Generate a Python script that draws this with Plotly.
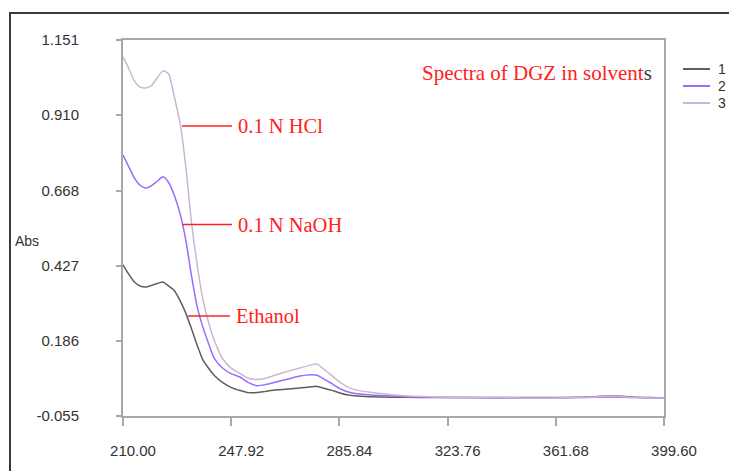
import plotly.graph_objects as go

wavelength = [210, 212, 214, 216, 218, 220, 222, 224, 226, 228, 230, 232, 234, 236, 238, 240,
              242, 245, 248, 251, 254, 257, 260, 264, 268, 272, 276, 278, 280, 283, 286, 289,
              292, 296, 300, 310, 320, 330, 340, 350, 360, 370, 375, 380, 385, 390, 395, 399.6]

abs_ethanol = [0.430, 0.400, 0.375, 0.362, 0.359, 0.364, 0.370, 0.375, 0.362, 0.347, 0.315, 0.275,
               0.225, 0.172, 0.125, 0.098, 0.075, 0.052, 0.036, 0.027, 0.020, 0.020, 0.024, 0.029,
               0.032, 0.035, 0.039, 0.040, 0.035, 0.028, 0.019, 0.012, 0.009, 0.007, 0.006, 0.005,
               0.004, 0.004, 0.004, 0.004, 0.004, 0.005, 0.007, 0.009, 0.008, 0.005, 0.004, 0.003]

abs_naoh = [0.782, 0.745, 0.708, 0.685, 0.676, 0.684, 0.698, 0.712, 0.694, 0.652, 0.594, 0.510,
            0.395, 0.295, 0.230, 0.177, 0.130, 0.098, 0.080, 0.070, 0.052, 0.042, 0.046, 0.055,
            0.064, 0.073, 0.077, 0.076, 0.066, 0.050, 0.033, 0.022, 0.016, 0.013, 0.011, 0.007,
            0.005, 0.004, 0.003, 0.003, 0.003, 0.004, 0.005, 0.006, 0.005, 0.004, 0.003, 0.002]

abs_hcl = [1.097, 1.060, 1.020, 1.000, 0.997, 1.005, 1.030, 1.052, 1.042, 0.968, 0.885, 0.745,
           0.565, 0.430, 0.320, 0.245, 0.187, 0.127, 0.098, 0.082, 0.066, 0.062, 0.066, 0.078,
           0.089, 0.099, 0.109, 0.112, 0.098, 0.076, 0.054, 0.037, 0.028, 0.022, 0.017, 0.009,
           0.006, 0.004, 0.004, 0.003, 0.003, 0.004, 0.006, 0.008, 0.007, 0.004, 0.003, 0.003]

series_names = ["1", "2", "3"]
series_colors = ["#5e5e5e", "#9a6bff", "#cbb6d6"]

x_ticks = [210.00, 247.92, 285.84, 323.76, 361.68, 399.60]
x_tick_text = ["210.00", "247.92", "285.84", "323.76", "361.68", "399.60"]
y_ticks = [-0.055, 0.186, 0.427, 0.668, 0.910, 1.151]
y_tick_text = ["-0.055", "0.186", "0.427", "0.668", "0.910", "1.151"]

labels = ["0.1 N HCl", "0.1 N NaOH", "Ethanol"]
label_pos = [(230.7, 248.2, 0.875), (230.7, 248.2, 0.559), (232.8, 247.5, 0.266)]

# plot-area geometry in pixels (for paper-coordinate decorations)
L, R, T, B = 123, 664, 40, 416
W, H = R - L, B - T


def px(xp):
    return (xp - L) / W


def py(yp):
    return (B - yp) / H


fig = go.Figure()
for name, ys, col in zip(series_names, [abs_ethanol, abs_naoh, abs_hcl], series_colors):
    fig.add_trace(go.Scatter(x=wavelength, y=ys, mode="lines", name=name, showlegend=False,
                             line=dict(color=col, width=1.5, shape="spline", smoothing=0.6)))

red = "#ff2222"
serif = "Liberation Serif, Times New Roman, serif"
for text, (x0, x1, yv) in zip(labels, label_pos):
    fig.add_shape(type="line", xref="x", yref="y", x0=x0, x1=x1, y0=yv, y1=yv,
                  line=dict(color=red, width=1.5))
    fig.add_annotation(x=x1 + 1.3, y=yv, xref="x", yref="y", text=text, showarrow=False,
                       xanchor="left", yanchor="middle",
                       font=dict(family=serif, size=20.5, color=red))

fig.add_annotation(x=px(420), y=py(73), xref="paper", yref="paper",
                   text="Spectra of DGZ in solvent<span style='color:#3a3a3a'>s</span>",
                   showarrow=False, xanchor="left", yanchor="middle",
                   font=dict(family=serif, size=21, color=red))

fig.add_annotation(x=px(13), y=py(241), xref="paper", yref="paper",
                   text="Abs", showarrow=False, xanchor="left", yanchor="middle",
                   font=dict(family="Liberation Sans, Arial", size=14, color="#333333"))

# legend (drawn manually to match the compact spacing)
for i, (name, col) in enumerate(zip(series_names, series_colors)):
    yl = 69 + 17 * i
    fig.add_shape(type="line", xref="paper", yref="paper", x0=px(683), x1=px(710),
                  y0=py(yl), y1=py(yl), line=dict(color=col, width=2))
    fig.add_annotation(x=px(716), y=py(yl), xref="paper", yref="paper", text=name,
                       showarrow=False, xanchor="left", yanchor="middle",
                       font=dict(family="Liberation Sans, Arial", size=14, color="#333333"))

# outer frame (top and left edges)
fig.add_shape(type="line", xref="paper", yref="paper", x0=px(10), x1=px(10),
              y0=py(475), y1=py(13), line=dict(color="#3a3a3a", width=2))
fig.add_shape(type="line", xref="paper", yref="paper", x0=px(9), x1=px(729),
              y0=py(13), y1=py(13), line=dict(color="#3a3a3a", width=2))

axis_font = dict(family="Liberation Sans, Arial", size=15, color="#333333")
fig.update_xaxes(range=[210, 399.6], tickvals=x_ticks, ticktext=x_tick_text,
                 showgrid=False, zeroline=False, showline=True, mirror=True,
                 linecolor="#a8a8a8", linewidth=2, ticks="outside", ticklen=8,
                 tickcolor="#a8a8a8", tickwidth=2, tickfont=axis_font,
                 ticklabelstandoff=12, ticklabelshift=10)
fig.update_yaxes(range=[-0.055, 1.151], tickvals=y_ticks, ticktext=y_tick_text,
                 showgrid=False, zeroline=False, showline=True, mirror=True,
                 linecolor="#a8a8a8", linewidth=2, ticks="outside", ticklen=5,
                 tickcolor="#a8a8a8", tickwidth=2, tickfont=axis_font,
                 ticklabelstandoff=34)

fig.update_layout(
    width=730, height=471,
    margin=dict(l=L, r=730 - R, t=T, b=471 - B),
    paper_bgcolor="white", plot_bgcolor="white",
    showlegend=False,
)

fig.write_html("out.html", config={"displayModeBar": False})
